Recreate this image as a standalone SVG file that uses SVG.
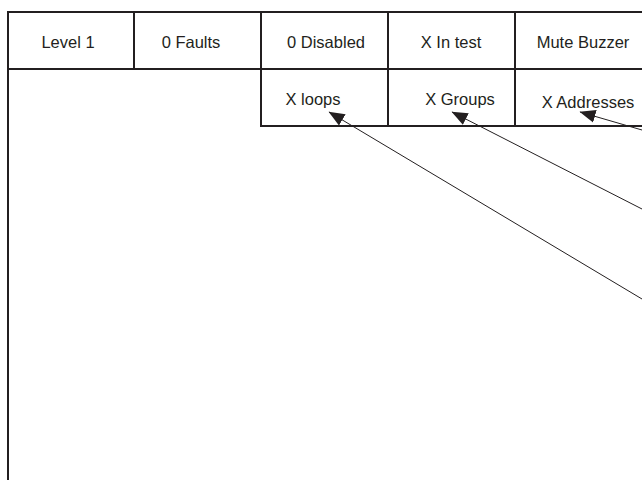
<svg xmlns="http://www.w3.org/2000/svg" width="642" height="482" viewBox="0 0 642 482">
<style>
.frame{stroke:#231f20;stroke-width:2;fill:none}
.lbl{font-family:"Liberation Sans",Arial,sans-serif;font-size:16.5px;fill:#231f20;text-anchor:middle}
.conn{stroke:#231f20;stroke-width:1;fill:none}
</style>
<defs>
<marker id="ah" markerUnits="userSpaceOnUse" markerWidth="17" markerHeight="14" refX="15.5" refY="6.5" orient="auto" viewBox="0 0 17 13">
<path d="M0,0 L16,6.5 L0,13 Z" fill="#231f20"/>
</marker>
</defs>
<rect width="642" height="482" fill="#fff"/>
<g id="frame">
<path class="frame" d="M8,12 H643 M8,69 H643 M8,11 V480 M134,12 V69 M261,12 V127 M388,12 V127 M515,12 V127 M260,126 H643"/>
</g>
<g id="level"><text class="lbl" x="68" y="48">Level 1</text></g>
<g id="faults"><text class="lbl" x="191" y="48">0 Faults</text></g>
<g id="disabled"><text class="lbl" x="326" y="48">0 Disabled</text></g>
<g id="intest"><text class="lbl" x="451" y="48">X In test</text></g>
<g id="mute"><text class="lbl" x="583" y="48">Mute Buzzer</text></g>
<g id="loops"><text class="lbl" x="313" y="105">X loops</text></g>
<g id="groups"><text class="lbl" x="460" y="105">X Groups</text></g>
<g id="addresses"><text class="lbl" x="588" y="108">X Addresses</text></g>
<g id="connectors">
<line class="conn" x1="642" y1="299" x2="329" y2="112" marker-end="url(#ah)"/>
<line class="conn" x1="642" y1="209" x2="452" y2="112" marker-end="url(#ah)"/>
<line class="conn" x1="642" y1="130" x2="580" y2="112" marker-end="url(#ah)"/>
</g>
</svg>
